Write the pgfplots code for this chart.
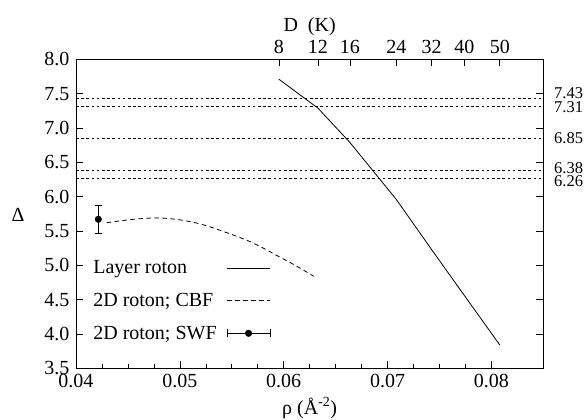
\documentclass[border=0pt]{standalone}
\usepackage{fontspec}
\setmainfont{Liberation Serif}
\usepackage{pgfplots}
\pgfplotsset{compat=1.18}
\begin{document}
\begin{tikzpicture}[font=\fontsize{20bp}{24bp}\selectfont]
\useasboundingbox (-76bp,-51.7bp) rectangle (508bp,368.3bp);
\begin{axis}[
  at={(0,0)}, anchor=south west,
  scale only axis, width=467.3bp, height=309bp,
  xmin=0.04, xmax=0.085, ymin=3.5, ymax=8.0,
  clip=false,
  /pgf/number format/assume math mode=true,
  scaled x ticks=false, scaled y ticks=false,
  xtick={0.04,0.05,0.06,0.07,0.08},
  xticklabel style={yshift=-2bp, /pgf/number format/.cd, fixed, fixed zerofill, precision=2, assume math mode=true},
  minor x tick num=3,
  ytick={3.5,4.0,4.5,5.0,5.5,6.0,6.5,7.0,7.5,8.0},
  yticklabel style={xshift=-3bp, /pgf/number format/.cd, fixed, fixed zerofill, precision=1, assume math mode=true},
  xtick pos=bottom, ytick pos=both,
  tick align=inside,
  major tick length=7bp, minor tick length=4bp,
  tick style={black, line width=0.6bp},
  axis line style={line width=0.8bp},
  xlabel={ρ (Å\textsuperscript{-2})},
  ylabel={Δ},
  xlabel style={at={(axis description cs:0.5,-0.128)}, anchor=center},
  ylabel style={rotate=-90, at={(axis description cs:-0.124,0.496)}, anchor=center},
  legend plot pos=right,
  legend cell align=left,
  legend style={draw=none, fill=none, at={(axis description cs:0.026,0.362)}, anchor=north west, row sep=14bp, column sep=8bp},
]
% reference lines
\addplot[black, line width=0.6bp, dash pattern=on 2.6bp off 2.6bp, forget plot] coordinates {(0.04,7.43) (0.085,7.43)};
\addplot[black, line width=0.6bp, dash pattern=on 2.6bp off 2.6bp, forget plot] coordinates {(0.04,7.31) (0.085,7.31)};
\addplot[black, line width=0.6bp, dash pattern=on 2.6bp off 2.6bp, forget plot] coordinates {(0.04,6.85) (0.085,6.85)};
\addplot[black, line width=0.6bp, dash pattern=on 2.6bp off 2.6bp, forget plot] coordinates {(0.04,6.38) (0.085,6.38)};
\addplot[black, line width=0.6bp, dash pattern=on 2.6bp off 2.6bp, forget plot] coordinates {(0.04,6.26) (0.085,6.26)};
% Layer roton
\addplot[black, line width=0.8bp,
  legend image code/.code={\draw[black, line width=0.8bp] (0bp,0bp) -- (43bp,0bp);}]
  coordinates {(0.05954,7.71) (0.06329,7.29) (0.06637,6.79) (0.07084,5.96) (0.07424,5.23) (0.07740,4.56) (0.08081,3.84)};
\addlegendentry{Layer roton}
% CBF
\addplot[black, line width=0.8bp, dash pattern=on 4.5bp off 3.5bp, smooth,
  legend image code/.code={\draw[black, line width=0.8bp, dash pattern=on 4.5bp off 3.5bp] (0bp,0bp) -- (43bp,0bp);}]
  coordinates {(0.04295,5.62) (0.0455,5.67) (0.0480,5.69) (0.0505,5.65) (0.0529,5.56) (0.05675,5.345) (0.0600,5.09) (0.06156,4.96) (0.0629,4.84)};
\addlegendentry{2D roton; CBF}
% SWF
\addplot[black, only marks, mark=*, mark size=3.3bp,
  error bars/.cd, y dir=both, y explicit,
  error bar style={black, line width=0.8bp},
  error mark options={black, line width=0.8bp, mark size=3.8bp, rotate=90}]
  [legend image code/.code={\draw[black, line width=0.8bp] (0bp,0bp) -- (43bp,0bp) (0bp,-3.8bp) -- (0bp,3.8bp) (43bp,-3.8bp) -- (43bp,3.8bp); \fill[black] (21.5bp,0bp) circle (3.3bp);}]
  coordinates {(0.04215,5.67) +- (0,0.20)};
\addlegendentry{2D roton; SWF}
% right-hand labels
\node[anchor=west, inner sep=0pt, xshift=10.7bp, font=\fontsize{16.5bp}{18bp}\selectfont] at (axis cs:0.085,7.51) {7.43};
\node[anchor=west, inner sep=0pt, xshift=10.7bp, font=\fontsize{16.5bp}{18bp}\selectfont] at (axis cs:0.085,7.31) {7.31};
\node[anchor=west, inner sep=0pt, xshift=10.7bp, font=\fontsize{16.5bp}{18bp}\selectfont] at (axis cs:0.085,6.85) {6.85};
\node[anchor=west, inner sep=0pt, xshift=10.7bp, font=\fontsize{16.5bp}{18bp}\selectfont] at (axis cs:0.085,6.41) {6.38};
\node[anchor=west, inner sep=0pt, xshift=10.7bp, font=\fontsize{16.5bp}{18bp}\selectfont] at (axis cs:0.085,6.22) {6.26};
\end{axis}
\begin{axis}[
  at={(0,0)}, anchor=south west,
  scale only axis, width=467.3bp, height=309bp,
  xmin=0.04, xmax=0.085, ymin=3.5, ymax=8.0,
  scaled x ticks=false, scaled y ticks=false,
  xtick={0.05954,0.06329,0.06637,0.07084,0.07424,0.07740,0.08081},
  xticklabels={8,12,16,24,32,40,50},
  xticklabel style={yshift=2bp},
  xtick pos=top, xticklabel pos=top,
  ytick=\empty,
  tick align=inside,
  major tick length=7bp,
  tick style={black, line width=0.6bp},
  axis line style={draw=none},
  xlabel={D\ \ (K)},
  xlabel style={at={(axis description cs:0.5,1.106)}, anchor=center},
]
\end{axis}
\end{tikzpicture}
\end{document}
